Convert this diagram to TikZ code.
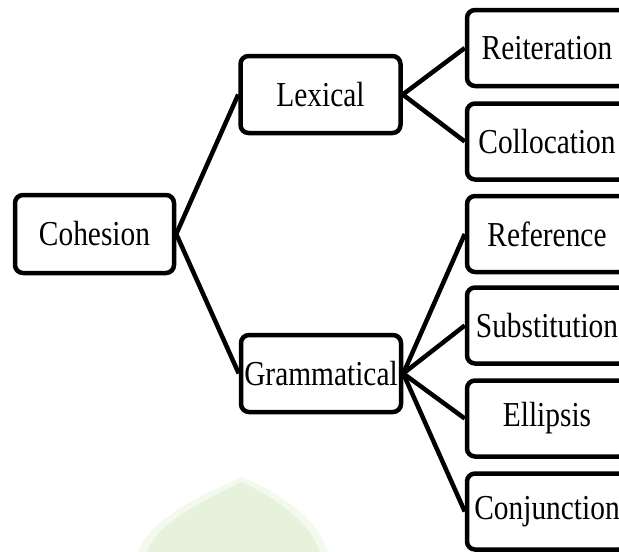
\documentclass[tikz,border=0pt]{standalone}
\usepackage{fontspec}
\setmainfont{Liberation Serif}[FakeStretch=0.84]
\definecolor{wmgreen}{HTML}{E6F2DC}
\tikzset{
  box/.style={draw=black, line width=4.5pt, rounded corners=8pt, fill=white,
    minimum width=160pt, minimum height=77pt, inner sep=0pt,
    font=\fontsize{35}{40}\selectfont},
  leaf/.style={box, minimum height=76pt},
  link/.style={draw=black, line width=4.5pt}
}
\begin{document}
\begin{tikzpicture}[x=1pt,y=-1pt]
\useasboundingbox (0,0) rectangle (619,552);
\clip (0,0) rectangle (619,552);
\fill[white] (0,0) rectangle (619,552);
% faint watermark
\fill[wmgreen!50] (138,552) .. controls (150,520) and (195,498) .. (242,477) .. controls (290,498) and (318,522) .. (328,552) -- cycle;
\fill[wmgreen] (147,552) .. controls (158,522) and (200,503) .. (242,482) .. controls (284,503) and (310,524) .. (320,552) -- cycle;
% nodes
\node[box, minimum width=159pt, minimum height=78pt] (coh) at (94.5,234) {Cohesion};
\node[box] (lex) at (320.5,94.5) {Lexical};
\node[box] (gram) at (321,373.5) {Grammatical};
\node[leaf] (rei) at (547,48) {Reiteration};
\node[leaf] (col) at (547,141.5) {Collocation};
\node[leaf] (ref) at (547,234) {Reference};
\node[leaf] (sub) at (547,325.5) {Substitution};
\node[leaf] (ell) at (547,418.5) {Ellipsis};
\node[leaf] (con) at (547,511.5) {Conjunction};
% connectors
\draw[link] (coh.east) -- (lex.west);
\draw[link] (coh.east) -- (gram.west);
\draw[link] (lex.east) -- (rei.west);
\draw[link] (lex.east) -- (col.west);
\draw[link] (gram.east) -- (ref.west);
\draw[link] (gram.east) -- (sub.west);
\draw[link] (gram.east) -- (ell.west);
\draw[link] (gram.east) -- (con.west);
\end{tikzpicture}
\end{document}
